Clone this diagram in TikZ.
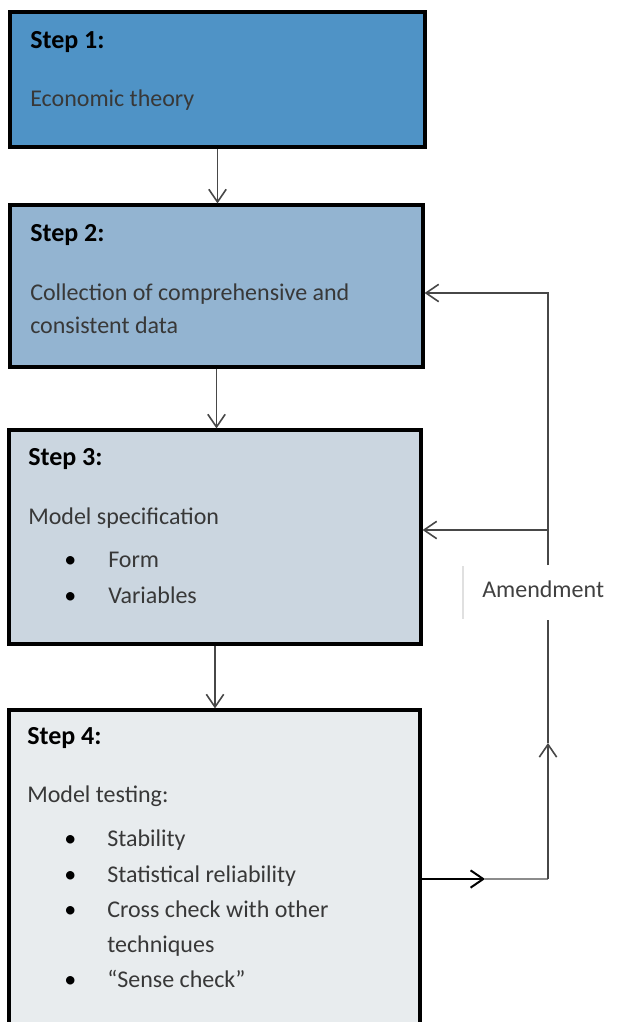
\documentclass[tikz,border=0pt]{standalone}
\usepackage{fontspec}
\setmainfont{Carlito}
\usetikzlibrary{arrows.meta}
\definecolor{stepone}{RGB}{79,147,198}
\definecolor{steptwo}{RGB}{147,180,209}
\definecolor{stepthree}{RGB}{203,214,224}
\definecolor{stepfour}{RGB}{232,236,238}
\tikzset{
  stepbox/.style={draw=black, line width=2.4pt, inner sep=0pt},
  steptitle/.style={anchor=base west, inner sep=0pt, font=\fontsize{19.5}{23}\selectfont\bfseries, text=black},
  steptext/.style={anchor=base west, inner sep=0pt, font=\fontsize{18}{22}\selectfont, text=black!78},
  link/.style={draw=black!72, line width=1.2pt},
  linktip/.style={-{Straight Barb[length=9.5pt,width=13pt]}},
}
\begin{document}
\begin{tikzpicture}[x=0.75pt,y=0.75pt,yscale=-1,xscale=1]
\useasboundingbox (0,0) rectangle (636,1022);

%Shape: Rectangle [step 1]
\node (s1) [stepbox, fill=stepone, minimum width=311.25pt, minimum height=101.25pt] at (217.5,79.5) {};
%Shape: Rectangle [step 2]
\node (s2) [stepbox, fill=steptwo, minimum width=309.75pt, minimum height=121.5pt] at (216.5,286) {};
%Shape: Rectangle [step 3]
\node (s3) [stepbox, fill=stepthree, minimum width=309pt, minimum height=160.5pt] at (215,537) {};
%Shape: Rectangle [step 4]
\node (s4) [stepbox, fill=stepfour, minimum width=308.25pt, minimum height=247.5pt] at (214.5,875) {};

%Straight Lines [down arrows]
\draw [link, linktip] (s1.south) -- (s1.south |- s2.north) ;
\draw [link, linktip] (s2.south) -- (s2.south |- s3.north) ;
\draw [link, linktip] (s3.south) -- (s3.south |- s4.north) ;

%Amendment loop
\coordinate (top) at (548,293) ;
\coordinate (mid) at (548,530) ;
\coordinate (gapT) at (548,565) ;
\coordinate (gapB) at (548,620) ;
\coordinate (up) at (548,743) ;
\coordinate (corner) at (548,879) ;
\coordinate (out) at (485,879) ;

\draw [link, linktip] (gapT) -- (top) -- (top -| s2.east) ;
\draw [link, linktip] (mid) -- (mid -| s3.east) ;
\draw [draw=black, line width=1.5pt, linktip] (s4.east |- out) -- (out) ;
\draw [draw=black!45, line width=1.2pt] (out) -- (corner) ;
\draw [link, linktip] (corner) -- (up) ;
\draw [link] (up) -- (gapB) ;

% Text Node
\node (amend) [steptext, text=black!75] at (482,597) {Amendment} ;
\draw [black!12, line width=0.8pt] (463,566) -- (463,619) ;

% Text Node [step 1]
\node (t1) [steptitle] at (30,48) {Step 1:} ;
\node (t1a) [steptext] at (30,106) {Economic theory} ;

% Text Node [step 2]
\node (t2) [steptitle] at (30,241) {Step 2:} ;
\node (t2a) [steptext] at (30,300) {Collection of comprehensive and} ;
\node (t2b) [steptext] at (30,333) {consistent data} ;

% Text Node [step 3]
\node (t3) [steptitle] at (28,465) {Step 3:} ;
\node (t3a) [steptext] at (28,524) {Model specification} ;
\node (b3a) [steptext, text=black] at (64,567) {•} ;
\node (t3b) [steptext] at (108,567) {Form} ;
\node (b3b) [steptext, text=black] at (64,603) {•} ;
\node (t3c) [steptext] at (108,603) {Variables} ;

% Text Node [step 4]
\node (t4) [steptitle] at (27,744) {Step 4:} ;
\node (t4a) [steptext] at (27,802) {Model testing:} ;
\node (b4a) [steptext, text=black] at (64,846) {•} ;
\node (t4b) [steptext] at (107,846) {Stability} ;
\node (b4b) [steptext, text=black] at (64,882) {•} ;
\node (t4c) [steptext] at (107,882) {Statistical reliability} ;
\node (b4c) [steptext, text=black] at (64,917) {•} ;
\node (t4d) [steptext] at (107,917) {Cross check with other} ;
\node (t4e) [steptext] at (107,952) {techniques} ;
\node (b4d) [steptext, text=black] at (64,987) {•} ;
\node (t4f) [steptext] at (107,987) {“Sense check”} ;

\end{tikzpicture}
\end{document}
